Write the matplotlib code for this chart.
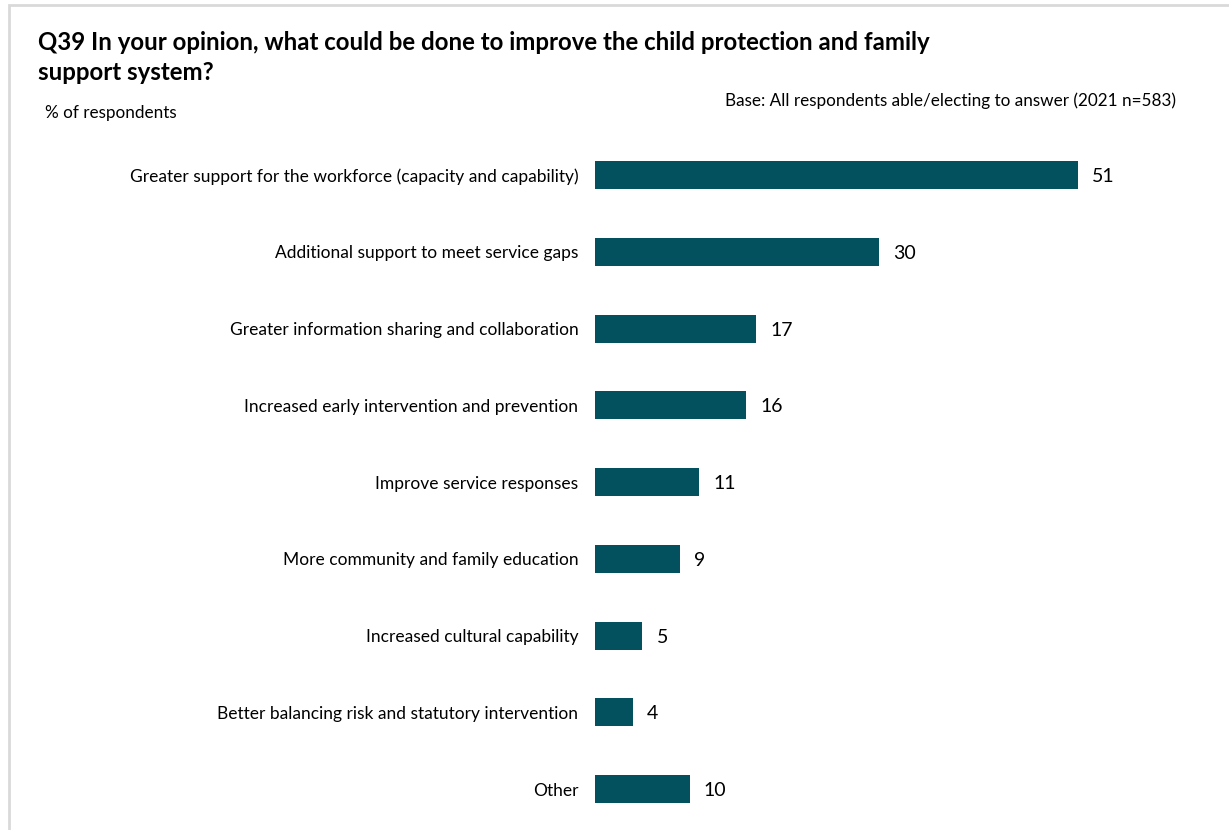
import matplotlib.pyplot as plt
from matplotlib.patches import Rectangle

categories = [
    "Greater support for the workforce (capacity and capability)",
    "Additional support to meet service gaps",
    "Greater information sharing and collaboration",
    "Increased early intervention and prevention",
    "Improve service responses",
    "More community and family education",
    "Increased cultural capability",
    "Better balancing risk and statutory intervention",
    "Other",
]
values = [51, 30, 17, 16, 11, 9, 5, 4, 10]

bar_color = "#03505f"
plt.rcParams['font.family'] = ['Lato', 'DejaVu Sans']

fig = plt.figure(figsize=(12.29, 8.30), dpi=100)

# light grey frame around the chart area
fig.patches.append(Rectangle((9 / 1229, -0.01), 1.1, 1 - 5 / 830 + 0.01,
                             transform=fig.transFigure, fill=False,
                             edgecolor="#d9d9d9", linewidth=2))

ax = fig.add_axes([595 / 1229, 0.0031, 1 - 595 / 1229, 0.8323])
pos = list(range(len(categories)))
ax.barh(pos, values, height=0.365, color=bar_color)
ax.set_ylim(len(categories) - 0.5, -0.5)
ax.set_xlim(0, 67)
ax.set_yticks(pos)
ax.set_yticklabels(categories, fontsize=12.5, color="#000000")
ax.tick_params(axis="y", length=0, pad=12)
ax.set_xticks([])
for s in ax.spines.values():
    s.set_visible(False)

for p, v in zip(pos, values):
    ax.text(v + 1.5, p, str(v), va="center_baseline", ha="left", fontsize=14)

fig.text(38 / 1229, 1 - 42 / 830,
         "Q39 In your opinion, what could be done to improve the child protection and family",
         fontsize=17.3, fontweight="bold", va="center", ha="left")
fig.text(38 / 1229, 1 - 73 / 830, "support system?",
         fontsize=17.3, fontweight="bold", va="center", ha="left")
fig.text(45 / 1229, 1 - 113 / 830, "% of respondents",
         fontsize=12.3, va="center", ha="left")
fig.text(1176 / 1229, 1 - 101 / 830,
         "Base: All respondents able/electing to answer (2021 n=583)",
         fontsize=12.3, va="center", ha="right")

fig.savefig("out.png", dpi=100)
